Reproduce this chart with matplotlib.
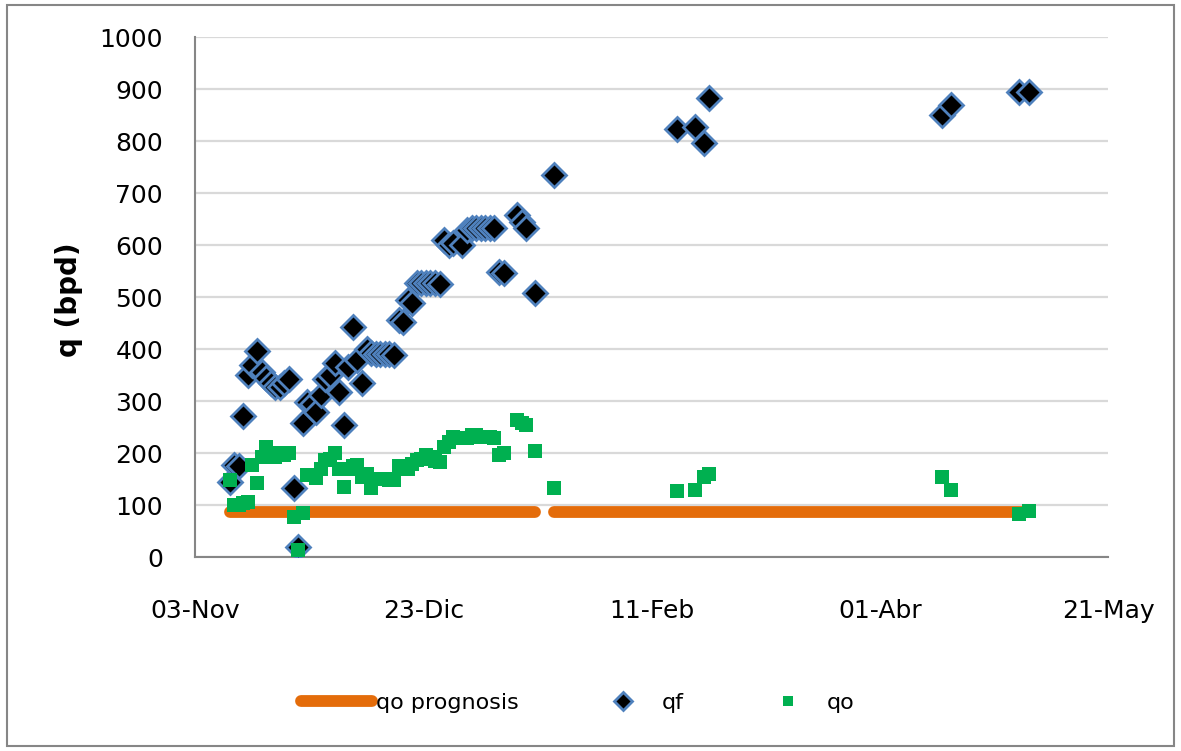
import matplotlib.pyplot as plt
import numpy as np
import pandas as pd

# dias contados desde 03-Nov-2011
dias = [7, 8, 9, 10, 11, 12, 13, 14, 15, 16, 17, 18, 19, 20, 21, 22, 23, 24, 25, 26,
        27, 28, 29, 30, 31, 32, 33, 34, 35, 36, 37, 38, 39, 40, 41, 42, 43, 44, 45, 46,
        47, 48, 49, 50, 51, 52, 53, 54, 55, 56, 58, 59, 60, 61, 62, 63, 64, 65, 66, 67,
        70, 71, 72, 74, 78, 105, 109, 111, 112, 163, 165, 180, 182]

qf = [146, 178, 175, 272, 351, 370, 396, 357, 345, 335, 328, 328, 335, 343, 134, 21, 258, 299, 296, 280,
      312, 344, 351, 373, 319, 255, 367, 444, 380, 335, 400, 393, 392, 392, 392, 391, 389, 456, 453, 495,
      489, 528, 528, 528, 528, 528, 525, 610, 601, 604, 601, 630, 633, 633, 633, 633, 633, 633, 549, 546,
      658, 645, 633, 509, 735, 824, 828, 797, 884, 851, 870, 895, 895]

qo = [149, 101, 101, 104, 107, 178, 143, 194, 213, 197, 194, 200, 197, 200, 78, 14, 86, 159, 159, 152,
      171, 187, 190, 200, 171, 136, 171, 175, 178, 155, 160, 133, 150, 150, 150, 149, 149, 175, 175, 171,
      180, 187, 190, 197, 193, 186, 184, 213, 222, 232, 229, 229, 235, 235, 232, 232, 232, 229, 197, 200,
      264, 258, 255, 205, 134, 128, 130, 155, 160, 155, 130, 84, 90]

# pronostico de qo (con un corte entre enero y febrero)
dias_prog = [7, 74, 76, 78, 182]
qo_prog = [88, 88, np.nan, 88, 88]

tick_dias = [0, 50, 100, 150, 200]
tick_labels = ['03-Nov', '23-Dic', '11-Feb', '01-Abr', '21-May']

inicio = pd.Timestamp('2011-11-03')
desfase = pd.Timedelta(hours=14)  # los puntos caen un poco despues de medianoche
fechas = inicio + pd.to_timedelta(dias, unit='D') + desfase
fechas_prog = inicio + pd.to_timedelta(dias_prog, unit='D') + desfase
fechas_ticks = inicio + pd.to_timedelta(tick_dias, unit='D')

fig = plt.figure(figsize=(11.81, 7.51), dpi=100)
ax = fig.add_axes([0.1651, 0.2577, 0.7731, 0.6926])

l1, = ax.plot(fechas_prog, qo_prog, color='#E46C0A', linewidth=8.5,
              solid_capstyle='round', label='qo prognosis', zorder=2)
l2, = ax.plot(fechas, qf, linestyle='none', marker='D', markersize=12.5,
              markerfacecolor='black', markeredgecolor='#4F81BD', markeredgewidth=2,
              label='qf', zorder=3)
l3, = ax.plot(fechas, qo, linestyle='none', marker='s', markersize=10,
              markerfacecolor='#00B050', markeredgecolor='#00B050', markeredgewidth=0,
              label='qo', zorder=4)

ax.set_xlim(fechas_ticks[0], fechas_ticks[-1])
ax.set_ylim(0, 1000)
ax.set_yticks(range(0, 1001, 100))
ax.set_xticks(fechas_ticks)
ax.set_xticklabels(tick_labels)

ax.grid(axis='y', color='#D9D9D9', linewidth=1.6)
ax.set_axisbelow(True)
for s in ['top', 'right']:
    ax.spines[s].set_visible(False)
for s in ['left', 'bottom']:
    ax.spines[s].set_color('#868686')
    ax.spines[s].set_linewidth(1.5)
ax.tick_params(axis='x', length=0, pad=30, labelsize=18)
ax.tick_params(axis='y', length=0, pad=23, labelsize=18)

ax.set_ylabel('q (bpd)', fontsize=20, fontweight='bold')
ax.yaxis.set_label_coords(-0.123, 0.495)

leg = fig.legend(handles=[l1, l2, l3], loc='center', bbox_to_anchor=(0.4894, 0.064),
                 ncol=3, frameon=False, fontsize=16, handlelength=3.2,
                 handletextpad=0.15, columnspacing=3.1, markerscale=0.75)

# marco exterior del grafico
fig.patches.append(plt.Rectangle((0.006, 0.006), 0.988, 0.988, transform=fig.transFigure,
                                 fill=False, edgecolor='#868686', linewidth=1.5))

plt.savefig('out.png', dpi=100)
